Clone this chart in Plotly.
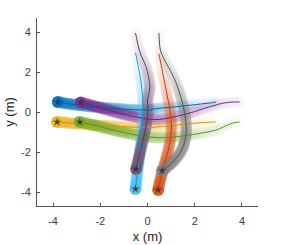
import plotly.graph_objects as go

# ---- data: trajectories (metres) ----
blue_x = [-3.8, -3.65, -3.5, -3.35, -3.2, -3.05, -2.9, -2.75, -2.6, -2.45,
          -2.3, -2.15, -2.0, -1.85, -1.7, -1.55, -1.4, -1.25, -1.1, -0.95,
          -0.8, -0.65, -0.5, -0.35, -0.2, -0.05, 0.1, 0.2, 0.3, 0.45,
          0.6, 0.75, 0.9, 1.05, 1.2, 1.35, 1.5, 1.65, 1.8, 1.95,
          2.1, 2.25, 2.4, 2.55, 2.7, 2.8, 2.9]
blue_y = [0.5, 0.47, 0.44, 0.41, 0.39, 0.36, 0.34, 0.32, 0.3, 0.28,
          0.26, 0.245, 0.23, 0.215, 0.2, 0.185, 0.17, 0.16, 0.15, 0.14,
          0.13, 0.12, 0.11, 0.105, 0.1, 0.1, 0.1, 0.13, 0.16, 0.18,
          0.2, 0.215, 0.23, 0.245, 0.26, 0.28, 0.3, 0.32, 0.34, 0.36,
          0.38, 0.4, 0.42, 0.44, 0.46, 0.48, 0.5]

purple_x = [-2.83, -2.65, -2.5, -2.35, -2.2, -2.05, -1.9, -1.75, -1.6, -1.45,
            -1.3, -1.15, -1.0, -0.85, -0.7, -0.55, -0.4, -0.25, -0.1, 0.05,
            0.2, 0.35, 0.5, 0.65, 0.8, 0.95, 1.1, 1.25, 1.4, 1.55,
            1.7, 1.85, 2.0, 2.15, 2.3, 2.45, 2.6, 2.75, 2.9, 3.05,
            3.2, 3.35, 3.5, 3.65, 3.8, 3.9]
purple_y = [0.48, 0.43, 0.38, 0.33, 0.28, 0.23, 0.18, 0.13, 0.08, 0.025,
            -0.03, -0.075, -0.12, -0.16, -0.2, -0.235, -0.27, -0.3, -0.33, -0.35,
            -0.37, -0.375, -0.37, -0.35, -0.32, -0.285, -0.25, -0.21, -0.17, -0.125,
            -0.08, -0.03, 0.02, 0.08, 0.14, 0.195, 0.25, 0.3, 0.35, 0.4,
            0.44, 0.47, 0.49, 0.5, 0.5, 0.5]

yellow_x = [-3.83, -3.65, -3.5, -3.35, -3.2, -3.05, -2.9, -2.75, -2.6, -2.45,
            -2.3, -2.15, -2.0, -1.85, -1.7, -1.55, -1.4, -1.25, -1.1, -0.95,
            -0.8, -0.65, -0.5, -0.35, -0.2, -0.05, 0.1, 0.25, 0.4, 0.55,
            0.7, 0.85, 1.0, 1.15, 1.3, 1.45, 1.6, 1.75, 1.9, 2.05,
            2.2, 2.35, 2.5, 2.65, 2.8, 2.9]
yellow_y = [-0.5, -0.515, -0.53, -0.545, -0.56, -0.575, -0.59, -0.605, -0.62, -0.635,
            -0.65, -0.66, -0.67, -0.68, -0.69, -0.7, -0.71, -0.72, -0.73, -0.74,
            -0.75, -0.755, -0.76, -0.765, -0.77, -0.77, -0.77, -0.76, -0.75, -0.735,
            -0.72, -0.7, -0.68, -0.66, -0.64, -0.62, -0.6, -0.585, -0.57, -0.555,
            -0.54, -0.53, -0.52, -0.51, -0.505, -0.5]

green_x = [-2.87, -2.7, -2.55, -2.4, -2.25, -2.1, -1.95, -1.8, -1.65, -1.5,
           -1.35, -1.2, -1.05, -0.9, -0.75, -0.6, -0.45, -0.3, -0.15, 0.0,
           0.15, 0.3, 0.45, 0.6, 0.75, 0.9, 1.05, 1.2, 1.35, 1.5,
           1.65, 1.8, 1.95, 2.1, 2.25, 2.4, 2.55, 2.7, 2.85, 3.0,
           3.15, 3.3, 3.45, 3.6, 3.75, 3.9]
green_y = [-0.5, -0.54, -0.58, -0.62, -0.66, -0.705, -0.75, -0.795, -0.84, -0.885,
           -0.93, -0.97, -1.01, -1.05, -1.09, -1.125, -1.16, -1.19, -1.22, -1.24,
           -1.26, -1.27, -1.28, -1.28, -1.28, -1.27, -1.26, -1.24, -1.22, -1.2,
           -1.18, -1.15, -1.12, -1.09, -1.06, -1.03, -1.0, -0.96, -0.92, -0.86,
           -0.78, -0.7, -0.62, -0.56, -0.52, -0.5]

lblue_x = [-0.51, -0.495, -0.48, -0.465, -0.45, -0.435, -0.42, -0.405, -0.39, -0.375,
           -0.36, -0.345, -0.33, -0.315, -0.3, -0.285, -0.27, -0.26, -0.25, -0.24,
           -0.23, -0.22, -0.21, -0.205, -0.2, -0.195, -0.19, -0.19, -0.19, -0.195,
           -0.2, -0.21, -0.22, -0.235, -0.25, -0.265, -0.28, -0.3, -0.32, -0.345,
           -0.37, -0.395, -0.42, -0.445, -0.47, -0.51]
lblue_y = [-3.85, -3.7, -3.55, -3.4, -3.25, -3.1, -2.95, -2.8, -2.65, -2.5,
           -2.35, -2.2, -2.05, -1.9, -1.75, -1.6, -1.45, -1.3, -1.15, -1.0,
           -0.85, -0.7, -0.55, -0.4, -0.25, -0.1, 0.05, 0.2, 0.35, 0.5,
           0.65, 0.8, 0.95, 1.1, 1.25, 1.4, 1.55, 1.7, 1.85, 2.0,
           2.15, 2.3, 2.45, 2.6, 2.75, 2.95]

orange_x = [0.45, 0.475, 0.5, 0.53, 0.56, 0.595, 0.63, 0.665, 0.7, 0.735,
            0.77, 0.805, 0.84, 0.87, 0.9, 0.925, 0.95, 0.97, 0.99, 1.0,
            1.01, 1.015, 1.01, 1.0, 0.99, 0.975, 0.96, 0.94, 0.92, 0.895,
            0.87, 0.845, 0.82, 0.795, 0.77, 0.745, 0.72, 0.695, 0.67, 0.645,
            0.62, 0.595, 0.57, 0.545, 0.52, 0.48]
orange_y = [-3.9, -3.75, -3.6, -3.45, -3.3, -3.15, -3.0, -2.85, -2.7, -2.55,
            -2.4, -2.25, -2.1, -1.95, -1.8, -1.65, -1.5, -1.35, -1.2, -1.05,
            -0.9, -0.75, -0.6, -0.45, -0.3, -0.15, 0.0, 0.15, 0.3, 0.45,
            0.6, 0.75, 0.9, 1.05, 1.2, 1.35, 1.5, 1.65, 1.8, 1.95,
            2.1, 2.25, 2.4, 2.55, 2.7, 2.9]

mauve_x = [-0.48, -0.45, -0.42, -0.39, -0.36, -0.33, -0.3, -0.27, -0.24, -0.21,
           -0.18, -0.15, -0.12, -0.095, -0.07, -0.05, -0.03, -0.015, 0.0, 0.01,
           0.02, 0.01, 0.0, 0.0, 0.03, 0.055, 0.08, 0.095, 0.1, 0.085,
           0.06, 0.035, 0.01, -0.025, -0.06, -0.11, -0.16, -0.22, -0.28, -0.32,
           -0.36, -0.39, -0.42, -0.445, -0.47, -0.51]
mauve_y = [-2.85, -2.7, -2.55, -2.4, -2.25, -2.1, -1.95, -1.8, -1.65, -1.5,
           -1.35, -1.2, -1.05, -0.9, -0.75, -0.6, -0.45, -0.3, -0.15, 0.0,
           0.15, 0.3, 0.45, 0.6, 0.75, 0.9, 1.05, 1.2, 1.35, 1.5,
           1.65, 1.8, 1.95, 2.1, 2.25, 2.4, 2.55, 2.7, 2.85, 3.0,
           3.15, 3.3, 3.45, 3.6, 3.75, 3.95]

gray_x = [0.62, 0.71, 0.8, 0.89, 0.98, 1.07, 1.15, 1.24, 1.32, 1.39,
          1.46, 1.51, 1.55, 1.58, 1.61, 1.63, 1.64, 1.645, 1.64, 1.63,
          1.62, 1.6, 1.58, 1.555, 1.53, 1.5, 1.47, 1.435, 1.4, 1.36,
          1.32, 1.275, 1.23, 1.175, 1.12, 1.06, 1.0, 0.93, 0.86, 0.79,
          0.72, 0.66, 0.6, 0.56, 0.53, 0.51, 0.5, 0.49, 0.48]
gray_y = [-2.93, -2.86, -2.78, -2.69, -2.6, -2.5, -2.4, -2.28, -2.15, -2.02,
          -1.88, -1.74, -1.6, -1.45, -1.3, -1.15, -1.0, -0.85, -0.7, -0.55,
          -0.4, -0.25, -0.1, 0.05, 0.2, 0.35, 0.5, 0.65, 0.8, 0.95,
          1.1, 1.25, 1.4, 1.55, 1.7, 1.85, 2.0, 2.15, 2.3, 2.45,
          2.6, 2.75, 2.9, 3.05, 3.2, 3.4, 3.6, 3.8, 3.95]

x_ticks = [-4, -2, 0, 2, 4]
x_tick_labels = ["-4", "-2", "0", "2", "4"]
y_ticks = [-4, -2, 0, 2, 4]
y_tick_labels = ["-4", "-2", "0", "2", "4"]

agents = [
    (blue_x, blue_y, (0, 114, 189), (0, 94, 160)),
    (purple_x, purple_y, (126, 47, 142), (105, 35, 120)),
    (yellow_x, yellow_y, (237, 177, 32), (200, 145, 15)),
    (green_x, green_y, (119, 172, 48), (90, 140, 30)),
    (lblue_x, lblue_y, (77, 190, 238), (30, 150, 205)),
    (orange_x, orange_y, (217, 83, 25), (190, 60, 15)),
    (mauve_x, mauve_y, (115, 82, 112), (90, 55, 88)),
    (gray_x, gray_y, (130, 130, 130), (80, 80, 80)),
]

fig = go.Figure()

# fading trails of discs
for xs, ys, c, lc in agents:
    n = min(len(xs), len(ys))
    alphas = [0.55 * (1 - i / (n - 1)) ** 1.6 + 0.025 for i in range(n)]
    alphas[0] = 0.95
    fig.add_trace(go.Scatter(
        x=xs[:n], y=ys[:n], mode="markers",
        marker=dict(size=12, color="rgb(%d,%d,%d)" % c, opacity=alphas, line=dict(width=0)),
        hoverinfo="skip", showlegend=False))

# trajectory lines
for xs, ys, c, lc in agents:
    n = min(len(xs), len(ys))
    fig.add_trace(go.Scatter(
        x=xs[:n], y=ys[:n], mode="lines",
        line=dict(color="rgb(%d,%d,%d)" % lc, width=1, shape="spline", smoothing=0.6),
        hoverinfo="skip", showlegend=False))

# start stars
fig.add_trace(go.Scatter(
    x=[a[0][0] for a in agents], y=[a[1][0] for a in agents], mode="markers",
    marker=dict(symbol="star", size=6, color="rgba(50,50,50,0.85)", line=dict(width=0)),
    hoverinfo="skip", showlegend=False))

FONT = "Liberation Sans, Arial, sans-serif"
axis_common = dict(
    showgrid=False, zeroline=False, showline=True, linecolor="#555555", linewidth=1,
    ticks="inside", ticklen=3, tickcolor="#555555", mirror=False, automargin=False,
    tickfont=dict(family=FONT, size=11, color="#404040"),
)

fig.update_layout(
    width=286, height=245,
    margin=dict(l=37, r=28, t=18, b=39, autoexpand=False),
    paper_bgcolor="white", plot_bgcolor="white",
    xaxis=dict(range=[-4.68, 4.68], tickvals=x_ticks, ticktext=x_tick_labels,
               ticklabelstandoff=5,
               title=dict(text="x (m)", standoff=5,
                          font=dict(family=FONT, size=13, color="#262626")),
               **axis_common),
    yaxis=dict(range=[-4.7, 4.7], tickvals=y_ticks, ticktext=y_tick_labels,
               ticklabelstandoff=3,
               title=dict(text="y (m)", standoff=3,
                          font=dict(family=FONT, size=13, color="#262626")),
               **axis_common),
)

fig.write_html("out.html",
               config={"displayModeBar": False},
               post_script="document.body.style.margin='0';document.body.style.padding='0';")
